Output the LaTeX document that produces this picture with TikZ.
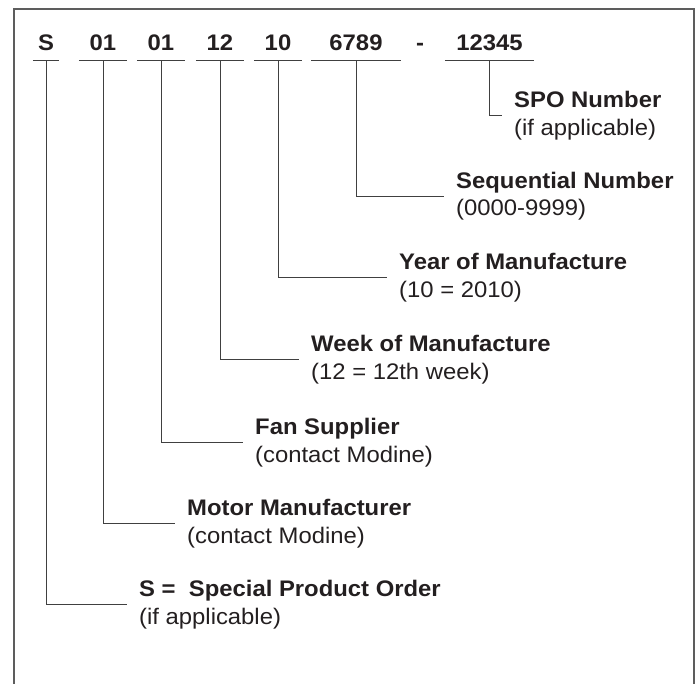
\documentclass[tikz,border=0pt]{standalone}
\usepackage{fontspec}
\setmainfont{Liberation Sans}[FakeStretch=1.06]
\definecolor{ink}{HTML}{231F20}
\definecolor{rule}{HTML}{404040}
\begin{document}
\begin{tikzpicture}[x=1pt, y=-1pt, font=\fontsize{22.5}{27.5}\selectfont, text=ink,
  codepart/.style={font=\fontsize{22.5}{27.5}\selectfont\bfseries, anchor=base, inner ysep=9pt, inner xsep=0pt},
  desc/.style={anchor=west, align=left, inner xsep=12pt, inner ysep=0pt},
  lead/.style={draw=rule, line width=0.9pt}]
\useasboundingbox (0,0) rectangle (698,684);
% frame, open at the bottom
\draw[draw=rule!85, line width=1.4pt] (14,684) -- (14,9) -- (694,9) -- (694,684);
% the serial number
\node[codepart, minimum width=26pt] (s) at (46,51) {S};
\node[codepart, minimum width=48pt] (motor) at (103,51) {01};
\node[codepart, minimum width=48pt] (fan) at (161,51) {01};
\node[codepart, minimum width=48pt] (week) at (220,51) {12};
\node[codepart, minimum width=48pt] (year) at (278,51) {10};
\node[codepart, minimum width=89pt] (seq) at (356,51) {6789};
\node[codepart] (sep) at (420,51) {-};
\node[codepart, minimum width=89pt] (spo) at (489.5,51) {12345};
% what each part means
\node[desc] (spo-txt) at (502,115.6) {\textbf{SPO Number}\\(if applicable)};
\node[desc] (seq-txt) at (444,196.2) {\textbf{Sequential Number}\\(0000-9999)};
\node[desc] (year-txt) at (387,277.9) {\textbf{Year of Manufacture}\\(10 = 2010)};
\node[desc] (week-txt) at (299,359.9) {\textbf{Week of Manufacture}\\(12 = 12th week)};
\node[desc] (fan-txt) at (243,442.9) {\textbf{Fan Supplier}\\(contact Modine)};
\node[desc] (motor-txt) at (175,523.9) {\textbf{Motor Manufacturer}\\(contact Modine)};
\node[desc] (s-txt) at (127,604.6) {\textbf{S = ~Special Product Order}\\(if applicable)};
\foreach \c in {s,motor,fan,week,year,seq,spo} {
  \draw[lead] (\c.south west) -- (\c.south east);
  \draw[lead] (\c.south) |- (\c-txt.west);
}
\end{tikzpicture}
\end{document}
